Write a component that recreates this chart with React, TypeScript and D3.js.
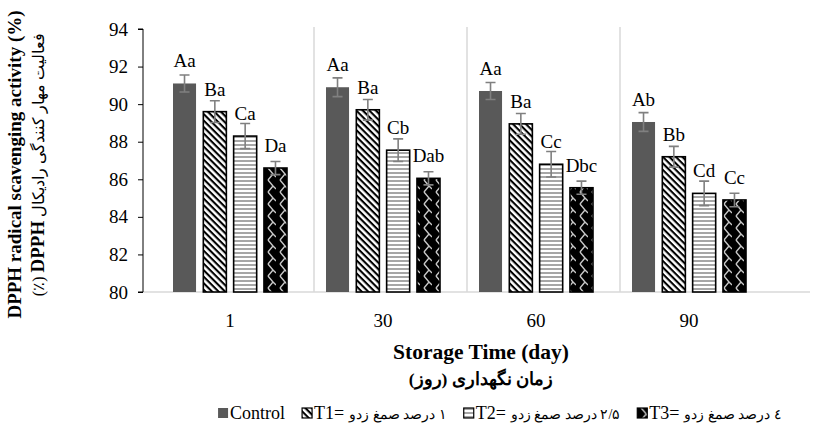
import { useEffect, useRef } from 'react';
import * as d3 from 'd3';

// storage days on x axis
const days = ['1', '30', '60', '90'];
const series = ['Control', 'T1', 'T2', 'T3'];

// mean DPPH activity per series, one value per day
const control = [91.1, 90.9, 90.7, 89.05];
const t1 = [89.6, 89.7, 88.95, 87.2];
const t2 = [88.3, 87.55, 86.8, 85.25];
const t3 = [86.6, 86.05, 85.55, 84.9];

// standard errors
const controlErr = [0.45, 0.5, 0.45, 0.5];
const t1Err = [0.58, 0.55, 0.55, 0.55];
const t2Err = [0.67, 0.6, 0.68, 0.65];
const t3Err = [0.35, 0.35, 0.35, 0.36];

// significance letters
const controlLbl = ['Aa', 'Aa', 'Aa', 'Ab'];
const t1Lbl = ['Ba', 'Ba', 'Ba', 'Bb'];
const t2Lbl = ['Ca', 'Cb', 'Cc', 'Cd'];
const t3Lbl = ['Da', 'Dab', 'Dbc', 'Cc'];

const yTicks = [80, 82, 84, 86, 88, 90, 92, 94];

const legendText = ['Control', 'T1=', 'T2=', 'T3='];
const legendFa = ['', '۱ درصد صمغ زدو', '۲/۵ درصد صمغ زدو', '٤ درصد صمغ زدو'];

const W = 816;
const H = 439;
const serif = '"Liberation Serif", "Times New Roman", serif';

const App = () => {
  const svgRef = useRef<SVGSVGElement>(null);

  useEffect(() => {
    if (!svgRef.current) return;
    const svg = d3.select(svgRef.current);
    svg.selectAll('*').remove();

    const values = [control, t1, t2, t3];
    const errs = [controlErr, t1Err, t2Err, t3Err];
    const lbls = [controlLbl, t1Lbl, t2Lbl, t3Lbl];

    const x0 = d3.scaleBand().domain(days).range([161, 773]);
    const x1 = d3.scaleBand().domain(series).range([12, 126]).paddingInner(0.24);
    const y = d3.scaleLinear().domain([80, 94]).range([292, 29]);
    const groupMid = (d: string) => x0(d)! + (x1.range()[0] + x1.range()[1]) / 2;

    // patterns
    const defs = svg.append('defs');
    const p1 = defs.append('pattern').attr('id', 'pT1').attr('patternUnits', 'userSpaceOnUse')
      .attr('width', 4.6).attr('height', 4.6).attr('patternTransform', 'rotate(45)');
    p1.append('rect').attr('width', 4.6).attr('height', 4.6).attr('fill', '#fff');
    p1.append('rect').attr('width', 4.6).attr('height', 2.1).attr('fill', '#000');

    const p2 = defs.append('pattern').attr('id', 'pT2').attr('patternUnits', 'userSpaceOnUse')
      .attr('width', 4).attr('height', 4);
    p2.append('rect').attr('width', 4).attr('height', 4).attr('fill', '#fff');
    p2.append('rect').attr('width', 4).attr('height', 2).attr('fill', '#a6a6a6');

    const p3 = defs.append('pattern').attr('id', 'pT3').attr('patternUnits', 'userSpaceOnUse')
      .attr('width', 12).attr('height', 12);
    p3.append('rect').attr('width', 12).attr('height', 12).attr('fill', '#000');
    p3.append('path').attr('d', 'M4,0 L9,6 L4,12 M9,6 L12,9')
      .attr('fill', 'none').attr('stroke', '#c8c8c8').attr('stroke-width', 1.4);

    const fills = ['#595959', 'url(#pT1)', 'url(#pT2)', 'url(#pT3)'];

    // separators between categories
    svg.append('g').selectAll('line').data(days.slice(1)).join('line')
      .attr('x1', d => x0(d)!).attr('x2', d => x0(d)!)
      .attr('y1', y(94) - 2).attr('y2', y(80))
      .attr('stroke', '#d9d9d9').attr('stroke-width', 1.5);

    // baseline
    svg.append('line').attr('x1', 143).attr('x2', 810).attr('y1', y(80)).attr('y2', y(80))
      .attr('stroke', '#d9d9d9').attr('stroke-width', 1.5);

    // y axis
    const yAxis = d3.axisLeft(y).tickValues(yTicks).tickSize(5).tickPadding(10)
      .tickFormat(d3.format('d'));
    const ga = svg.append('g').attr('transform', 'translate(143,0)').call(yAxis);
    ga.selectAll('text').attr('font-family', serif).attr('font-size', 19).attr('fill', '#000');
    ga.selectAll('line').attr('stroke', '#000');
    ga.select('.domain').attr('d', `M-5,${y(94)}H0V${y(80)}H-5`).attr('stroke', '#000');

    // bars
    series.forEach((s, si) => {
      const g = svg.append('g');
      days.forEach((d, di) => {
        const v = values[si][di];
        const e = errs[si][di];
        const bx = x0(d)! + x1(s)!;
        const bw = x1.bandwidth();
        g.append('rect')
          .attr('x', bx).attr('y', y(v))
          .attr('width', bw).attr('height', y(80) - y(v))
          .attr('fill', fills[si])
          .attr('stroke', si === 0 ? 'none' : '#000')
          .attr('stroke-width', 1.6);
        const cx = bx + bw / 2;
        g.append('path')
          .attr('d', `M${cx - 5},${y(v + e)}H${cx + 5}M${cx},${y(v + e)}V${y(v - e)}M${cx - 5},${y(v - e)}H${cx + 5}`)
          .attr('stroke', '#808080').attr('stroke-width', 1.6).attr('fill', 'none');
        g.append('text')
          .attr('x', cx).attr('y', y(v) - 16)
          .attr('text-anchor', 'middle')
          .attr('font-family', serif).attr('font-size', 19)
          .text(lbls[si][di]);
      });
    });

    // x labels
    svg.append('g').selectAll('text').data(days).join('text')
      .attr('x', d => groupMid(d)).attr('y', 327)
      .attr('text-anchor', 'middle').attr('font-family', serif).attr('font-size', 19)
      .text(d => d);

    // x titles
    svg.append('text').attr('x', 481).attr('y', 359).attr('text-anchor', 'middle')
      .attr('font-family', serif).attr('font-size', 21.5).attr('font-weight', 'bold')
      .text('Storage Time (day)');
    svg.append('text').attr('x', 481).attr('y', 385).attr('text-anchor', 'middle')
      .attr('direction', 'rtl')
      .attr('font-family', serif).attr('font-size', 17.5).attr('font-weight', 'bold')
      .text('زمان نگهداری (روز)');

    // y titles
    const cy = (y(94) + y(80)) / 2 + 4;
    svg.append('text').attr('transform', `translate(21,${cy}) rotate(-90)`)
      .attr('text-anchor', 'middle').attr('font-family', serif).attr('font-size', 19)
      .attr('font-weight', 'bold')
      .text('DPPH radical scavenging activity (%)');
    const t2t = svg.append('text').attr('transform', `translate(44,${cy}) rotate(-90)`)
      .attr('text-anchor', 'middle').attr('direction', 'rtl')
      .attr('font-family', serif).attr('font-size', 16);
    t2t.append('tspan').text('فعالیت مهار کنندگی رادیکال ');
    t2t.append('tspan').attr('font-weight', 'bold').attr('font-size', 19).text('DPPH');
    t2t.append('tspan').text(' (٪)');

    // legend
    const lg = svg.append('g');
    let cur = 0;
    const ly = 419;
    const gap = 17;
    series.forEach((s, i) => {
      const it = lg.append('g').attr('transform', `translate(${cur},0)`);
      it.append('rect').attr('x', 0).attr('y', ly - 11).attr('width', 10).attr('height', 10)
        .attr('fill', fills[i]).attr('stroke', i === 0 ? 'none' : '#000').attr('stroke-width', 1.2);
      const tx = it.append('text').attr('x', 12).attr('y', ly)
        .attr('font-family', serif).attr('font-size', 18).text(legendText[i]);
      let w = 12 + (tx.node() as SVGTextElement).getComputedTextLength();
      if (legendFa[i]) {
        const fa = it.append('text').attr('x', w + 5).attr('y', ly)
          .attr('font-family', serif).attr('font-size', 14)
          .text('\u2067' + legendFa[i] + '\u2069');
        w += 5 + (fa.node() as SVGTextElement).getComputedTextLength();
      }
      cur += w + gap;
    });
    const total = cur - gap;
    lg.attr('transform', `translate(${500 - total / 2},0)`);
  }, []);

  return (
    <svg ref={svgRef} width={W} height={H}
      style={{ position: 'absolute', left: 0, top: 0, background: '#fff' }} />
  );
};

export default App;
